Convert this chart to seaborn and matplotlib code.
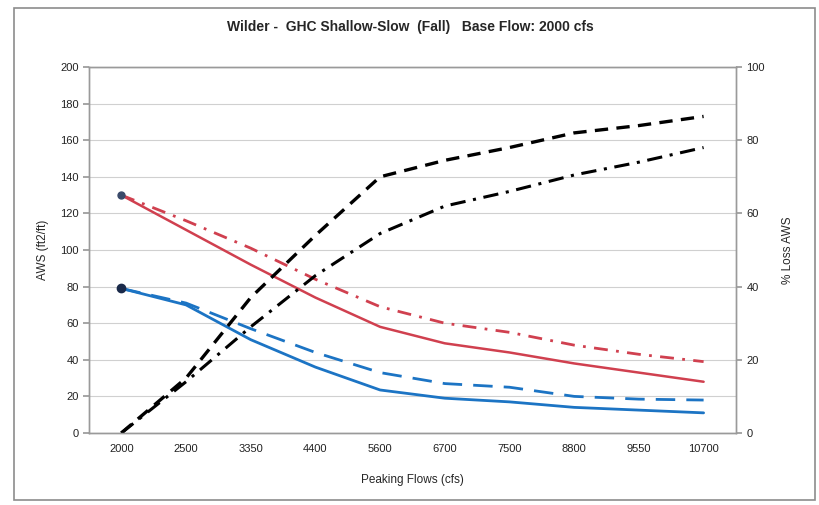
import numpy as np
import pandas as pd
import matplotlib
matplotlib.use("Agg")
import matplotlib.pyplot as plt
import seaborn as sns

# Datos
flujos = ["2000", "2500", "3350", "4400", "5600", "6700", "7500", "8800", "9550", "10700"]
aws_rojo = [130, 111, 92, 74, 58, 49, 44, 38, 33, 28]
aws_rojo_dd = [130, 116, 101, 84, 69, 60, 55, 48, 43, 39]
aws_azul = [79, 70, 51, 36, 23.5, 19, 17, 14, 12.5, 11]
aws_azul_d = [79, 71, 57, 44, 33, 27, 25, 20, 18.5, 18]
perdida_d = [0, 15, 37, 54, 70, 74.5, 78, 82, 84, 86.5]
perdida_dd = [0, 14, 29, 43, 54.5, 62, 66, 70.5, 74, 78]

sns.set_theme(style="white")
plt.rcParams['font.family'] = ['Liberation Sans', 'DejaVu Sans']

df = pd.DataFrame({
    "pos": np.arange(len(flujos)),
    "rojo": aws_rojo, "rojo_dd": aws_rojo_dd,
    "azul": aws_azul, "azul_d": aws_azul_d,
    "perd_d": perdida_d, "perd_dd": perdida_dd,
})

rojo = "#D0404F"
azul = "#1C74C4"
gris = "#9a9a9a"

fig = plt.figure(figsize=(8.2, 5.05), dpi=100)
ax = fig.add_axes([0.1085, 0.1426, 0.789, 0.7247])
ax2 = ax.twinx()

# marco exterior
fig.patches.append(plt.Rectangle((0.017, 0.01), 0.977, 0.975, transform=fig.transFigure,
                                 fill=False, edgecolor="#8c8c8c", linewidth=1.2))

sns.lineplot(data=df, x="pos", y="rojo_dd", ax=ax, color=rojo, linewidth=2,
             dashes=False, linestyle=(0, (5, 3, 1, 3)))
sns.lineplot(data=df, x="pos", y="rojo", ax=ax, color=rojo, linewidth=1.8)
sns.lineplot(data=df, x="pos", y="azul_d", ax=ax, color=azul, linewidth=2,
             linestyle=(0, (7, 4)))
sns.lineplot(data=df, x="pos", y="azul", ax=ax, color=azul, linewidth=2)
ax.plot(df["pos"][:1], df["rojo"][:1], "o", color="#3a4a6a", markersize=5)
ax.plot(df["pos"][:1], df["azul"][:1], "o", color="#1a2a4a", markersize=6)

sns.lineplot(data=df, x="pos", y="perd_d", ax=ax2, color="black", linewidth=2.4,
             linestyle=(0, (4, 2.5)))
sns.lineplot(data=df, x="pos", y="perd_dd", ax=ax2, color="black", linewidth=2.2,
             linestyle=(0, (5, 2.5, 1, 2.5)))

ax.set_xlim(-0.5, len(flujos) - 0.5)
ax.set_ylim(0, 200)
ax2.set_ylim(0, 100)
ax.set_yticks(np.arange(0, 201, 20))
ax2.set_yticks(np.arange(0, 101, 20))
ax.set_xticks(df["pos"])
ax.set_xticklabels(flujos)
ax.set_xticks(np.arange(-0.5, len(flujos), 1), minor=True)
ax.grid(axis="y", color="#d0d0d0", linewidth=0.8)
ax.set_axisbelow(True)

ax.tick_params(axis="x", which="major", length=0, labelsize=8, pad=8, colors="#222222")
ax.tick_params(axis="x", which="minor", length=4, color=gris, direction="out")
ax.tick_params(axis="y", length=4, color=gris, labelsize=8, colors="#222222", left=True)
ax2.tick_params(axis="y", length=4, color=gris, labelsize=8, colors="#222222", right=True)

for a in (ax, ax2):
    for s in a.spines.values():
        s.set_color(gris)
        s.set_linewidth(1)

ax.set_xlabel("Peaking Flows (cfs)", fontsize=8.5, labelpad=14)
ax.set_ylabel("AWS (ft2/ft)", fontsize=8.5, labelpad=8)
ax2.set_ylabel("% Loss AWS", fontsize=8.5, labelpad=12)
fig.suptitle("Wilder -  GHC Shallow-Slow  (Fall)   Base Flow: 2000 cfs",
             fontsize=10, fontweight="bold", y=0.96)

fig.savefig("out.png", dpi=100)
